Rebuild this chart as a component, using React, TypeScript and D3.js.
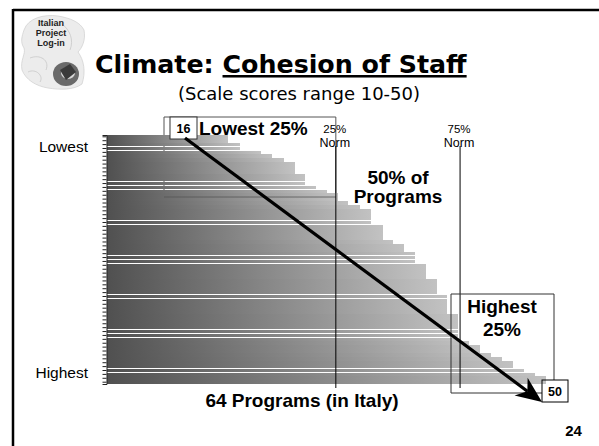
import React from "react";
import * as d3 from "d3";

// Scale scores of the 64 programs, sorted lowest -> highest
const scores: number[] = [
  16.0, 16.0, 17.2, 17.2, 19.5, 20.7, 21.9, 23.1, 23.1, 23.1, 24.2, 24.2, 24.2,
  25.4, 26.6, 27.7, 27.7, 28.8, 30.1, 31.3, 31.3, 31.3, 31.3, 32.5, 32.5, 32.5,
  32.5, 33.6, 34.8, 34.8, 36.0, 36.0, 36.0, 37.2, 37.2, 37.2, 37.2, 38.3, 38.3,
  38.3, 38.3, 39.4, 39.4, 39.4, 39.4, 39.4, 40.6, 40.6, 40.6, 40.6, 40.6, 40.6,
  40.6, 41.8, 42.9, 42.9, 44.1, 45.3, 46.5, 46.5, 47.6, 48.8, 50.0, 50.0,
];
const normValues: number[] = [27.5, 40.8];
const normLabels: string[] = ["25%", "75%"];
const minLabel = "16";
const maxLabel = "50";

const W = 599;
const H = 446;

export default function App() {
  const x = d3.scaleLinear().domain([3, 50]).range([107, 546]);
  const y = d3
    .scaleBand<number>()
    .domain(scores.map((_, i) => i))
    .range([135, 384])
    .paddingInner(0.07);

  const axisRef = React.useRef<SVGGElement>(null);
  React.useEffect(() => {
    if (!axisRef.current) return;
    const g = d3.select(axisRef.current);
    g.call(d3.axisLeft(y).tickSize(4).tickFormat(() => ""));
    g.select(".domain").attr("stroke", "#222").attr("stroke-width", 1);
    g.selectAll(".tick line").attr("stroke", "#222").attr("stroke-width", 1);
  }, []);

  const n25 = x(normValues[0]);
  const lowBottom = (y(16) as number) - 0.3;

  // arrow geometry
  const ax0 = 185, ay0 = 138, ax1 = 542, ay1 = 402;
  const dx = ax1 - ax0, dy = ay1 - ay0;
  const len = Math.hypot(dx, dy);
  const ux = dx / len, uy = dy / len;
  const px = -uy, py = ux;
  const hl = 26, hw = 11;
  const bx = ax1 - ux * hl, by = ay1 - uy * hl;
  const nx = ax1 - ux * hl * 0.7, ny = ay1 - uy * hl * 0.7;
  const head = `M${ax1},${ay1} L${bx + px * hw},${by + py * hw} L${nx},${ny} L${bx - px * hw},${by - py * hw} Z`;

  const sans = "'Liberation Sans', Arial, sans-serif";
  const verd = "'DejaVu Sans', Verdana, sans-serif";

  return (
    <div style={{ position: "absolute", left: 0, top: 0 }}>
      <svg width={W} height={H} style={{ display: "block", background: "#fff" }}>
        <defs>
          <linearGradient id="barGrad" x1="0" y1="0" x2="1" y2="0">
            <stop offset="0" stopColor="#505050" />
            <stop offset="1" stopColor="#c2c2c2" />
          </linearGradient>
        </defs>

        {/* frame */}
        <line x1={13} y1={10} x2={W} y2={10} stroke="#000" strokeWidth={2.5} />
        <line x1={13} y1={9} x2={13} y2={H} stroke="#000" strokeWidth={2.5} />

        {/* logo */}
        <g>
          <path
            d="M24,30 C28,18 44,14 58,16 C70,18 80,22 84,30 C86,40 82,48 78,52 C84,60 86,72 82,84 C74,90 60,90 48,88 C36,86 26,80 22,70 C20,60 26,54 24,48 C20,42 22,36 24,30 Z"
            fill="#ececec"
            stroke="#cfcfcf"
            strokeWidth={0.7}
          />
          <path d="M30,58 C40,54 50,60 46,70 M28,72 C36,68 44,76 40,82 M62,24 C70,30 74,40 70,50" fill="none" stroke="#c8c8c8" strokeWidth={0.8} />
          <ellipse cx={66} cy={74} rx={13} ry={12} fill="#6a6a6a" />
          <ellipse cx={68} cy={73} rx={7} ry={6} fill="#d8d8d8" />
          <path d="M60,70 L70,64 L76,72 L66,80 Z" fill="#3a3a3a" />
          <text x={51} y={26} textAnchor="middle" fontFamily={sans} fontWeight="bold" fontSize={9} fill="#222">Italian</text>
          <text x={51} y={36} textAnchor="middle" fontFamily={sans} fontWeight="bold" fontSize={9} fill="#222">Project</text>
          <text x={51} y={46} textAnchor="middle" fontFamily={sans} fontWeight="bold" fontSize={9} fill="#222">Log-in</text>
        </g>

        {/* titles */}
        <text x={95} y={73} fontFamily={verd} fontWeight="bold" fontSize={25.3} fill="#000">
          Climate: <tspan textDecoration="underline">Cohesion of Staff</tspan>
        </text>
        <text x={299} y={100} textAnchor="middle" fontFamily={verd} fontSize={18} fill="#000">
          (Scale scores range 10-50)
        </text>

        {/* lowest 25% box (behind bars) */}
        <path d={`M164,${lowBottom} L164,117 L${n25},117 L${n25},${lowBottom} Z`} fill="none" stroke="#555" strokeWidth={1} />

        {/* bars */}
        <g shapeRendering="crispEdges">
          {scores.map((v, i) => (
            <rect
              key={i}
              x={x.range()[0]}
              y={y(i) as number}
              width={x(v) - x.range()[0]}
              height={y.bandwidth()}
              fill="url(#barGrad)"
            />
          ))}
        </g>
        <line x1={164} y1={lowBottom} x2={n25} y2={lowBottom} stroke="#555" strokeWidth={0.8} />

        {/* left axis */}
        <g ref={axisRef} transform={`translate(${x.range()[0] - 0.5},0)`} />

        <text x={88} y={152} textAnchor="end" fontFamily={sans} fontSize={15.5} fill="#000">Lowest</text>
        <text x={88} y={378} textAnchor="end" fontFamily={sans} fontSize={15.5} fill="#000">Highest</text>

        {/* norm lines */}
        {normValues.map((v, i) => (
          <g key={i}>
            <line x1={x(v)} y1={146} x2={x(v)} y2={388} stroke="#000" strokeWidth={1} />
            <text x={x(v) - 1} y={132.5} textAnchor="middle" fontFamily={sans} fontSize={11.5} fill="#000">{normLabels[i]}</text>
            <text x={x(v) - 1} y={146.5} textAnchor="middle" fontFamily={sans} fontSize={12.5} fill="#000">Norm</text>
          </g>
        ))}

        {/* 16 box and label */}
        <rect x={170} y={117} width={27} height={22} fill="#fff" stroke="#333" strokeWidth={1} />
        <text x={183.5} y={133} textAnchor="middle" fontFamily={sans} fontWeight="bold" fontSize={12.5} fill="#000">{minLabel}</text>
        <text x={199} y={135} fontFamily={sans} fontWeight="bold" fontSize={19} fill="#000">Lowest 25%</text>

        <text x={398} y={184} textAnchor="middle" fontFamily={sans} fontWeight="bold" fontSize={19} fill="#000">50% of</text>
        <text x={398} y={203} textAnchor="middle" fontFamily={sans} fontWeight="bold" fontSize={19} fill="#000">Programs</text>

        {/* highest box */}
        <path d={`M542,393 L451,393 L451,294 L554,294 L554,380`} fill="none" stroke="#333" strokeWidth={1} />
        <text x={502} y={313} textAnchor="middle" fontFamily={sans} fontWeight="bold" fontSize={19} fill="#000">Highest</text>
        <text x={502} y={336} textAnchor="middle" fontFamily={sans} fontWeight="bold" fontSize={19} fill="#000">25%</text>

        {/* arrow */}
        <line x1={ax0} y1={ay0} x2={nx} y2={ny} stroke="#000" strokeWidth={3.2} />
        <path d={head} fill="#000" />

        {/* 50 box */}
        <rect x={542} y={380} width={26} height={22} fill="none" stroke="#000" strokeWidth={1} />
        <text x={555} y={396} textAnchor="middle" fontFamily={sans} fontWeight="bold" fontSize={12.5} fill="#000">{maxLabel}</text>

        <text x={302} y={407} textAnchor="middle" fontFamily={sans} fontWeight="bold" fontSize={19} fill="#000">64 Programs (in Italy)</text>
        <text x={573.5} y={436} textAnchor="middle" fontFamily={sans} fontWeight="bold" fontSize={15} fill="#000">24</text>
      </svg>
    </div>
  );
}
